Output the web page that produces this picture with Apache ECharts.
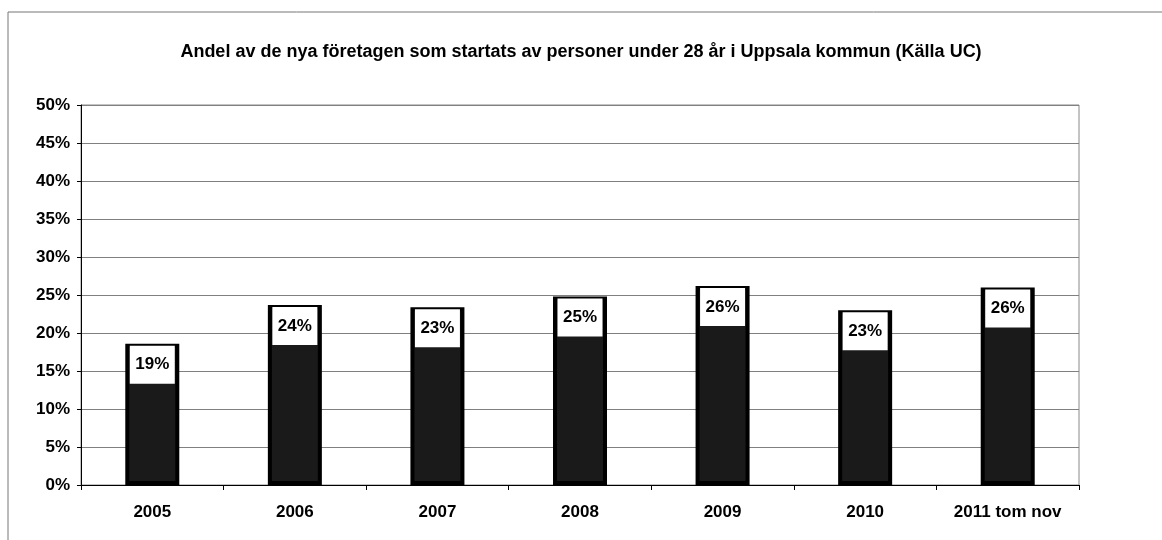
<!DOCTYPE html>
<html>
<head>
<meta charset="utf-8">
<script src="https://cdn.jsdelivr.net/npm/echarts@6/dist/echarts.min.js"></script>
<style>
html,body{margin:0;padding:0;background:#fff;}
#c{width:1162px;height:540px;}
</style>
</head>
<body>
<div id="c"></div>
<script>
const titleText = 'Andel av de nya företagen som startats av personer under 28 år i Uppsala kommun (Källa UC)';
const categories = ['2005', '2006', '2007', '2008', '2009', '2010', '2011 tom nov'];
const shares = [18.6, 23.7, 23.4, 24.8, 26.2, 23.0, 26.0];
const yTicks = { min: 0, max: 50, interval: 5 };

const font = '"Liberation Sans", Arial, sans-serif';
const chart = echarts.init(document.getElementById('c'), null, { renderer: 'canvas' });
chart.setOption({
  backgroundColor: '#fff',
  animation: false,
  title: {
    text: titleText,
    left: 'center',
    top: 38,
    textStyle: { fontFamily: font, fontSize: 18, fontWeight: 'bold', color: '#000' }
  },
  graphic: [
    { type: 'line', shape: { x1: 8, y1: 12, x2: 1162, y2: 12 }, style: { stroke: '#777', lineWidth: 1 } },
    { type: 'line', shape: { x1: 8, y1: 12, x2: 8, y2: 540 }, style: { stroke: '#777', lineWidth: 1 } }
  ],
  grid: {
    left: 81, right: 83, top: 105, bottom: 55,
    show: true, borderColor: '#888', borderWidth: 1, backgroundColor: 'transparent'
  },
  xAxis: {
    type: 'category',
    data: categories,
    axisLine: { lineStyle: { color: '#000', width: 1 } },
    axisTick: { show: true, alignWithLabel: false, interval: 0, length: 5, lineStyle: { color: '#000' } },
    axisLabel: { interval: 0, hideOverlap: false, margin: 19, fontFamily: font, fontSize: 17, fontWeight: 'bold', color: '#000' }
  },
  yAxis: {
    type: 'value',
    min: yTicks.min, max: yTicks.max, interval: yTicks.interval,
    axisLine: { show: true, lineStyle: { color: '#000', width: 1 } },
    axisTick: { show: true, length: 4, lineStyle: { color: '#000' } },
    splitLine: { lineStyle: { color: '#808080', width: 1 } },
    axisLabel: { formatter: '{value}%', margin: 11, fontFamily: font, fontSize: 17, fontWeight: 'bold', color: '#000' }
  },
  series: [{
    type: 'bar',
    data: shares,
    barWidth: 54,
    itemStyle: { color: '#1a1a1a', borderColor: '#000', borderWidth: 4 },
    label: {
      show: true,
      position: 'insideTop',
      distance: 2,
      formatter: p => Math.round(p.value) + '%',
      backgroundColor: '#fff',
      width: 45,
      height: 38,
      lineHeight: 38,
      align: 'center',
      verticalAlign: 'top',
      padding: 0,
      fontFamily: font,
      fontSize: 17,
      fontWeight: 'bold',
      color: '#000'
    }
  }]
});
</script>
</body>
</html>
